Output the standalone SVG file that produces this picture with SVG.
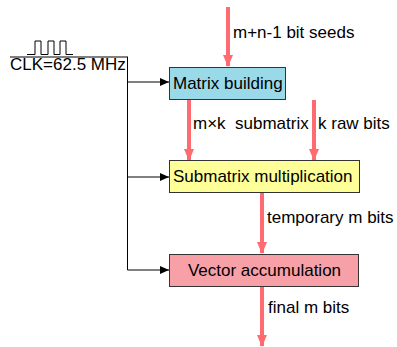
<svg xmlns="http://www.w3.org/2000/svg" width="397" height="347" viewBox="0 0 397 347">
<defs>
<style>
text{font-family:"Liberation Sans",Arial,sans-serif;font-size:17px;fill:#000}
.box{stroke:#333;stroke-width:1}
.red{stroke:#FF6B70;stroke-width:4;fill:none}
.blk{stroke:#000;stroke-width:1;fill:none}
</style>
<marker id="ra" markerWidth="12" markerHeight="10" refX="11" refY="5" orient="auto" markerUnits="userSpaceOnUse"><path d="M0,0 L12,5 L0,10 Z" fill="#FF6B70"/></marker>
<marker id="ka" markerWidth="9" markerHeight="8" refX="9" refY="4" orient="auto" markerUnits="userSpaceOnUse"><path d="M0,0 L9,4 L0,8 Z" fill="#000"/></marker>
</defs>
<g id="clock">
<path class="blk" d="M27,54.5 H35 V41 H41 V54.5 H48 V41 H54 V54.5 H60 V41 H66 V54.5 H73"/>
<line class="blk" x1="10" y1="57" x2="128" y2="57"/>
<text x="10" y="70">CLK=62.5 MHz</text>
</g>
<g id="connectors">
<path class="blk" d="M127.5,57 V270"/>
<line class="blk" x1="127.5" y1="82" x2="169" y2="82" marker-end="url(#ka)"/>
<line class="blk" x1="127.5" y1="177" x2="169" y2="177" marker-end="url(#ka)"/>
<line class="blk" x1="127.5" y1="270" x2="169" y2="270" marker-end="url(#ka)"/>
<line class="red" x1="228" y1="7" x2="228" y2="66" marker-end="url(#ra)"/>
<line class="red" x1="189" y1="99" x2="189" y2="160" marker-end="url(#ra)"/>
<line class="red" x1="314" y1="100" x2="314" y2="160" marker-end="url(#ra)"/>
<line class="red" x1="262" y1="193" x2="262" y2="253" marker-end="url(#ra)"/>
<line class="red" x1="262" y1="287" x2="262" y2="346" marker-end="url(#ra)"/>
<text x="233" y="38">m+n-1 bit seeds</text>
<text x="193" y="129" xml:space="preserve">m×k  submatrix</text>
<text x="318" y="129">k raw bits</text>
<text x="267" y="223">temporary m bits</text>
<text x="268" y="313">final m bits</text>
</g>
<g id="matrix-building">
<rect class="box" x="169.5" y="67.5" width="116" height="32" fill="#99D9E8"/>
<text x="173" y="89">Matrix building</text>
</g>
<g id="submatrix-multiplication">
<rect class="box" x="169.5" y="160.5" width="190" height="32" fill="#FFFF99"/>
<text x="173" y="182">Submatrix multiplication</text>
</g>
<g id="vector-accumulation">
<rect class="box" x="169.5" y="254.5" width="189" height="32" fill="#F8A0A8"/>
<text x="264.5" y="276" text-anchor="middle">Vector accumulation</text>
</g>
</svg>
